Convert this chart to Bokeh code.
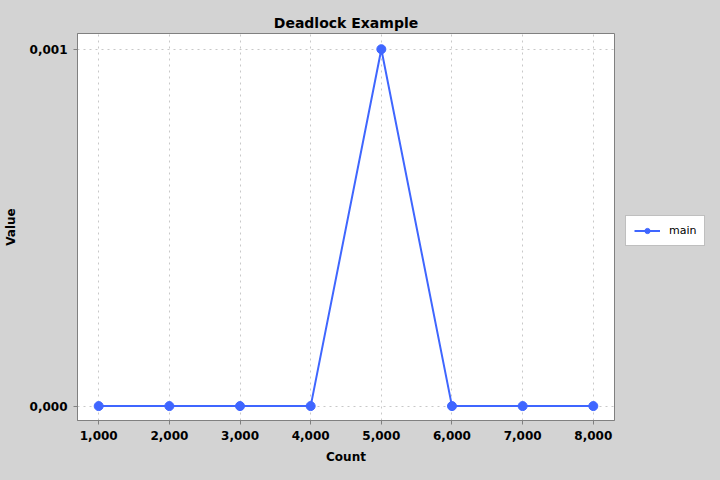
from bokeh.plotting import figure
from bokeh.models import Range1d, FixedTicker, Legend, LegendItem
from bokeh.embed import file_html
from bokeh.resources import INLINE

counts = [1000, 2000, 3000, 4000, 5000, 6000, 7000, 8000]
values = [0.0, 0.0, 0.0, 0.0, 0.001, 0.0, 0.0, 0.0]
x_ticks = [1000, 2000, 3000, 4000, 5000, 6000, 7000, 8000]
x_tick_labels = ["1,000", "2,000", "3,000", "4,000", "5,000", "6,000", "7,000", "8,000"]
y_ticks = [0.0, 0.001]
y_tick_labels = ["0,000", "0,001"]
series_name = "main"

BG = "#d3d3d3"
GRAY = "#808080"
BLUE = "#3f66ff"
FONT = "DejaVu Sans"

p = figure(width=704, height=464, frame_width=537, frame_height=387,
           output_backend="svg", toolbar_location=None,
           title="Deadlock Example",
           x_range=Range1d(700, 8300), y_range=Range1d(-0.0000404, 0.001044),
           min_border_left=72, min_border_right=0, min_border_top=33, min_border_bottom=44)

p.background_fill_color = "white"
p.border_fill_color = BG
p.outline_line_color = GRAY
p.outline_line_width = 1

p.title.align = "center"
p.title.text_font = FONT
p.title.text_font_size = "14px"
p.title.text_font_style = "bold"
p.title.text_color = "black"
p.title.offset = 0
p.title.standoff = 5

for ax, ticks, labels, name in ((p.xaxis[0], x_ticks, x_tick_labels, "Count"),
                                (p.yaxis[0], y_ticks, y_tick_labels, "Value")):
    ax.ticker = FixedTicker(ticks=ticks)
    ax.major_label_overrides = {t: l for t, l in zip(ticks, labels)}
    ax.axis_label = name
    ax.axis_label_text_font = FONT
    ax.axis_label_text_font_size = "12px"
    ax.axis_label_text_font_style = "bold"
    ax.axis_label_text_color = "black"
    ax.major_label_text_font = FONT
    ax.major_label_text_font_size = "12px"
    ax.major_label_text_font_style = "bold"
    ax.major_label_text_color = "black"
    ax.axis_line_color = GRAY
    ax.major_tick_line_color = GRAY
    ax.major_tick_in = 0
    ax.major_tick_out = 4
    ax.minor_tick_line_color = None
    ax.major_label_standoff = 6
    ax.axis_label_standoff = 7

p.yaxis[0].major_label_orientation = "horizontal"
p.yaxis[0].axis_label_standoff = 9

for g in (p.xgrid[0], p.ygrid[0]):
    g.grid_line_color = "#c8c8c8"
    g.grid_line_dash = "2 4"
    g.grid_line_width = 1
p.xgrid[0].ticker = FixedTicker(ticks=x_ticks)
p.ygrid[0].ticker = FixedTicker(ticks=y_ticks)

ln = p.line(counts, values, line_color=BLUE, line_width=2)
pts = p.scatter(counts, values, size=9, fill_color=BLUE, line_color=BLUE)

legend = Legend(items=[LegendItem(label=series_name, renderers=[ln, pts])],
                location=(11, 174),
                border_line_color=GRAY, background_fill_color="white", background_fill_alpha=1,
                padding=8, spacing=0, glyph_width=26, glyph_height=13, label_height=13,
                label_standoff=9, margin=0,
                label_text_font=FONT, label_text_font_size="11px", label_text_color="black")
p.add_layout(legend, "right")

template = """
{% block preamble %}
<style>html, body { background: #d3d3d3; }</style>
{% endblock %}
"""

open("out.html", "w").write(file_html(p, INLINE, template=template))
